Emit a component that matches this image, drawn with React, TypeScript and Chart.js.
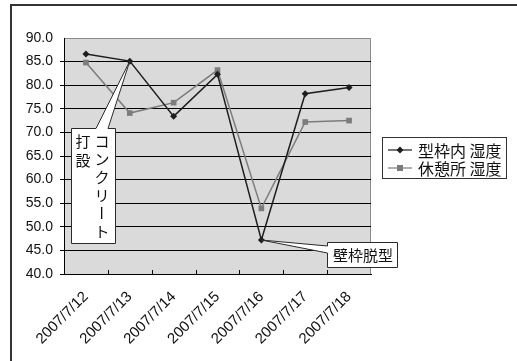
import React, { useEffect, useRef } from "react";
import { Chart, registerables } from "chart.js";

Chart.register(...registerables);

const categories = [
  "2007/7/12",
  "2007/7/13",
  "2007/7/14",
  "2007/7/15",
  "2007/7/16",
  "2007/7/17",
  "2007/7/18",
];
const formworkHumidity = [86.6, 85.1, 73.4, 82.3, 47.2, 78.2, 79.5];
const restAreaHumidity = [84.8, 74.1, 76.3, 83.2, 53.9, 72.2, 72.5];
const seriesNames = ["型枠内 湿度", "休憩所 湿度"];
const pourNoteRight = ["コ", "ン", "ク", "リ", "ー", "ト"];
const pourNoteLeft = ["打", "設"];
const stripNote = "壁枠脱型";
const pourIndex = 1;
const stripIndex = 4;

const FONT = "'Liberation Sans', 'Noto Sans CJK JP', sans-serif";
const JP_FONT = "'Noto Sans CJK JP', sans-serif";
const DARK = "#1e1e1e";
const GRAY = "#7c7c7c";

const decorations = {
  id: "decorations",
  beforeDraw(chart: any) {
    const { ctx, chartArea, width, height } = chart;
    ctx.save();
    ctx.fillStyle = "#ffffff";
    ctx.fillRect(0, 0, width, height);
    // outer frame
    ctx.strokeStyle = "#333";
    ctx.lineWidth = 2;
    ctx.beginPath();
    ctx.moveTo(11, height);
    ctx.lineTo(11, 5);
    ctx.lineTo(width, 5);
    ctx.stroke();
    // plot background
    ctx.fillStyle = "#dadada";
    ctx.fillRect(chartArea.left, chartArea.top, chartArea.right - chartArea.left, chartArea.bottom - chartArea.top);
    ctx.strokeStyle = "#8a8a8a";
    ctx.lineWidth = 1;
    ctx.beginPath();
    ctx.moveTo(chartArea.left, chartArea.top + 0.5);
    ctx.lineTo(chartArea.right - 0.5, chartArea.top + 0.5);
    ctx.lineTo(chartArea.right - 0.5, chartArea.bottom);
    ctx.stroke();
    ctx.restore();
  },
  afterDraw(chart: any) {
    const { ctx, chartArea } = chart;
    const xs = chart.scales.x;
    ctx.save();
    // inner category tick marks
    ctx.strokeStyle = "#000";
    ctx.lineWidth = 1;
    ctx.beginPath();
    for (let i = 1; i < categories.length; i++) {
      const x = Math.round((xs.getPixelForValue(i - 1) + xs.getPixelForValue(i)) / 2) + 0.5;
      ctx.moveTo(x, chartArea.bottom);
      ctx.lineTo(x, chartArea.bottom - 4);
    }
    ctx.stroke();

    const meta0 = chart.getDatasetMeta(0);
    const tip1 = meta0.data[pourIndex];
    const tip2 = meta0.data[stripIndex];

    ctx.fillStyle = "#fff";
    ctx.strokeStyle = "#2a2a2a";
    ctx.lineWidth = 1;
    // vertical callout
    ctx.beginPath();
    ctx.moveTo(71.5, 128.5);
    ctx.lineTo(96, 128.5);
    ctx.lineTo(tip1.x, tip1.y);
    ctx.lineTo(108, 128.5);
    ctx.lineTo(115.5, 128.5);
    ctx.lineTo(115.5, 243.5);
    ctx.lineTo(71.5, 243.5);
    ctx.closePath();
    ctx.fill();
    ctx.stroke();

    ctx.fillStyle = "#111";
    ctx.font = `15px ${JP_FONT}`;
    ctx.textAlign = "center";
    ctx.textBaseline = "middle";
    pourNoteRight.forEach((ch, i) => {
      const y = 141 + i * 18;
      if (ch === "ー") {
        ctx.save();
        ctx.translate(102, y);
        ctx.rotate(Math.PI / 2);
        ctx.fillText(ch, 0, 0);
        ctx.restore();
      } else {
        ctx.fillText(ch, 102, y);
      }
    });
    pourNoteLeft.forEach((ch, i) => {
      ctx.fillText(ch, 83, 141 + i * 19);
    });

    // horizontal callout
    ctx.fillStyle = "#fff";
    ctx.beginPath();
    ctx.moveTo(327.5, 242.5);
    ctx.lineTo(397.5, 242.5);
    ctx.lineTo(397.5, 267.5);
    ctx.lineTo(327.5, 267.5);
    ctx.lineTo(327.5, 253);
    ctx.lineTo(tip2.x, tip2.y);
    ctx.lineTo(327.5, 246);
    ctx.closePath();
    ctx.fill();
    ctx.stroke();
    ctx.fillStyle = "#111";
    ctx.fillText(stripNote, 363, 255.5);

    // legend
    ctx.fillStyle = "#fff";
    ctx.fillRect(382.5, 137.5, 124, 41);
    ctx.strokeStyle = "#333";
    ctx.strokeRect(382.5, 137.5, 124, 41);
    const rows = [
      { y: 150, color: DARK, diamond: true },
      { y: 168, color: GRAY, diamond: false },
    ];
    rows.forEach((r, i) => {
      ctx.strokeStyle = r.color;
      ctx.lineWidth = 1.2;
      ctx.beginPath();
      ctx.moveTo(388, r.y);
      ctx.lineTo(412, r.y);
      ctx.stroke();
      ctx.fillStyle = r.color;
      if (r.diamond) {
        ctx.beginPath();
        ctx.moveTo(400, r.y - 3.5);
        ctx.lineTo(403.5, r.y);
        ctx.lineTo(400, r.y + 3.5);
        ctx.lineTo(396.5, r.y);
        ctx.closePath();
        ctx.fill();
      } else {
        ctx.fillRect(397, r.y - 3, 6, 6);
      }
      ctx.fillStyle = "#111";
      ctx.font = `16px ${JP_FONT}`;
      ctx.textAlign = "left";
      ctx.fillText(seriesNames[i], 418, r.y + 1);
    });
    ctx.restore();
  },
};

export default function App() {
  const ref = useRef<HTMLCanvasElement | null>(null);
  useEffect(() => {
    if (!ref.current) return;
    const chart = new Chart(ref.current, {
      type: "line",
      data: {
        labels: categories,
        datasets: [
          {
            label: seriesNames[0],
            data: formworkHumidity,
            borderColor: DARK,
            backgroundColor: DARK,
            borderWidth: 1.5,
            pointStyle: "rectRot",
            pointRadius: 3.5,
            pointBorderWidth: 0,
            tension: 0,
          },
          {
            label: seriesNames[1],
            data: restAreaHumidity,
            borderColor: GRAY,
            backgroundColor: GRAY,
            borderWidth: 1.5,
            pointStyle: "rect",
            pointRadius: 4,
            pointBorderWidth: 0,
            tension: 0,
          },
        ],
      },
      options: {
        responsive: false,
        animation: false,
        layout: { padding: { top: 38, right: 146, left: 0, bottom: 0 } },
        plugins: { legend: { display: false }, tooltip: { enabled: false } },
        scales: {
          x: {
            offset: true,
            grid: { display: false, offset: true },
            border: { display: true, color: "#000", width: 1 },
            ticks: {
              autoSkip: false,
              minRotation: 45,
              maxRotation: 45,
              padding: 6,
              color: "#111",
              font: { family: FONT, size: 15 },
            },
            afterFit: (s: any) => {
              s.height = 87;
            },
          },
          y: {
            min: 40,
            max: 90,
            ticks: {
              stepSize: 5,
              padding: 7,
              color: "#111",
              font: { family: FONT, size: 14 },
              callback: (v: any) => Number(v).toFixed(1),
            },
            grid: {
              color: (c: any) => (c.tick && c.tick.value === 90 ? "rgba(0,0,0,0)" : "#000"),
              tickLength: 4,
              lineWidth: 1,
            },
            border: { display: true, color: "#000", width: 1 },
            afterFit: (s: any) => {
              s.width = 64;
            },
          },
        },
      },
      plugins: [decorations],
    });
    return () => chart.destroy();
  }, []);
  return (
    <div style={{ position: "fixed", left: 0, top: 0, width: 517, height: 361, background: "#fff" }}>
      <canvas ref={ref} width={517} height={361} />
    </div>
  );
}
